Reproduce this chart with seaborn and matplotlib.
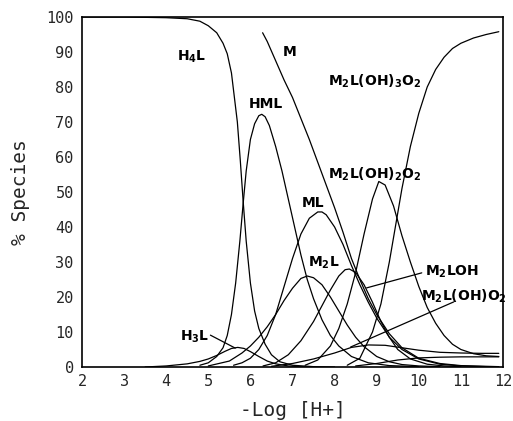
import numpy as np
import pandas as pd
import matplotlib
matplotlib.use("Agg")
import matplotlib.pyplot as plt
import seaborn as sns

# ---- data (pH, % species) ----
h4l_x = [2, 3, 4, 4.5, 4.8, 5.0, 5.2, 5.35, 5.45, 5.55, 5.62, 5.69, 5.76, 5.83, 5.9, 6.0, 6.1, 6.2, 6.35, 6.5, 6.7, 7.0, 7.5, 8.0]
h4l_y = [100, 100, 99.8, 99.5, 98.8, 97.5, 95.5, 92.5, 89.5, 84, 77, 70, 59, 47, 36, 24, 16, 11, 6.5, 3.5, 1.5, 0.5, 0.1, 0]

h3l_x = [3.5, 4.0, 4.5, 4.8, 5.0, 5.2, 5.4, 5.55, 5.7, 5.85, 6.0, 6.2, 6.4, 6.6, 6.9, 7.3]
h3l_y = [0, 0.3, 0.9, 1.6, 2.3, 3.3, 4.5, 5.3, 5.6, 5.3, 4.4, 3.0, 1.7, 0.9, 0.3, 0]

hml_x = [4.8, 5.0, 5.2, 5.35, 5.45, 5.55, 5.65, 5.75, 5.83, 5.9, 6.0, 6.1, 6.2, 6.27, 6.35, 6.45, 6.6, 6.75, 6.9, 7.05, 7.2, 7.35, 7.5, 7.7, 7.9, 8.1, 8.4, 8.8, 9.3, 10.0]
hml_y = [0.5, 1.2, 3, 5.5, 9, 15, 24, 36, 47, 56, 65, 69.5, 71.8, 72.2, 71.5, 69, 63, 56, 48, 40, 32, 25, 19.5, 13.5, 9, 6, 3, 1.2, 0.4, 0.1]

ml_x = [5.6, 5.8, 6.0, 6.2, 6.4, 6.6, 6.8, 7.0, 7.2, 7.4, 7.6, 7.7, 7.8, 8.0, 8.2, 8.4, 8.6, 8.8, 9.0, 9.3, 9.6, 10.0, 10.5, 11.0, 11.9]
ml_y = [0.5, 1.2, 2.5, 5, 9, 15, 23, 31, 38, 42.5, 44.3, 44.3, 43.5, 40, 35, 29, 23.5, 18.5, 14, 8.5, 5, 2.3, 0.8, 0.3, 0]

m_x = [6.29, 6.4, 6.6, 6.8, 7.0, 7.2, 7.4, 7.6, 7.8, 8.0, 8.2, 8.4, 8.6, 8.8, 9.0, 9.3, 9.6, 10.0, 10.5, 11.0, 11.9]
m_y = [95.5, 93, 87.5, 82, 77, 71, 65, 58.5, 52, 45.5, 38.5, 31, 25, 19.5, 15, 9.5, 5.5, 2.5, 1, 0.4, 0.1]

m2l_x = [5.0, 5.5, 5.8, 6.0, 6.2, 6.4, 6.6, 6.8, 7.0, 7.2, 7.35, 7.5, 7.7, 7.9, 8.1, 8.3, 8.5, 8.7, 9.0, 9.3, 9.6, 10.0, 10.5]
m2l_y = [0.3, 1.7, 4, 6, 8.5, 11.5, 15, 19, 22.5, 25.3, 26, 25.5, 23.5, 20, 16, 12, 8.5, 5.8, 3, 1.5, 0.7, 0.3, 0.1]

m2loh_x = [6.3, 6.6, 6.9, 7.2, 7.5, 7.7, 7.9, 8.1, 8.25, 8.35, 8.5, 8.7, 8.9, 9.1, 9.3, 9.5, 9.8, 10.2, 10.6, 11.0]
m2loh_y = [0.3, 1.2, 3.5, 7.5, 13, 17.5, 22, 26, 27.8, 28, 27, 23.5, 18.5, 13, 8.5, 5, 2.3, 0.8, 0.3, 0.1]

m2loho2_x = [6.5, 7.0, 7.5, 8.0, 8.4, 8.8, 9.2, 9.6, 10.0, 10.5, 11.0, 11.5, 11.9]
m2loho2_y = [0.2, 1.0, 2.3, 4.0, 5.6, 6.3, 6.2, 5.5, 4.8, 4.2, 4.0, 3.9, 3.9]

other_x = [8.5, 9.0, 9.5, 10.0, 10.5, 11.0, 11.9]
other_y = [0.3, 1.0, 2.0, 2.6, 2.8, 2.9, 2.9]

m2loh2o2_x = [7.3, 7.6, 7.9, 8.1, 8.3, 8.5, 8.7, 8.9, 9.05, 9.2, 9.4, 9.6, 9.8, 10.0, 10.2, 10.4, 10.6, 10.8, 11.0, 11.3, 11.6, 11.9]
m2loh2o2_y = [0.5, 2, 6, 11, 18, 27, 38, 48, 53, 52, 46, 37.5, 30, 23, 17, 12.5, 9, 6.5, 5, 3.8, 3.2, 3.0]

m2loh3o2_x = [8.3, 8.6, 8.9, 9.1, 9.3, 9.5, 9.6, 9.8, 10.0, 10.2, 10.4, 10.6, 10.8, 11.0, 11.3, 11.6, 11.9]
m2loh3o2_y = [0.5, 2.5, 10, 18, 30, 44, 51, 63, 72.5, 80, 85, 88.5, 91, 92.5, 94, 95, 95.8]

series = {
    "H4L": (h4l_x, h4l_y),
    "H3L": (h3l_x, h3l_y),
    "HML": (hml_x, hml_y),
    "ML": (ml_x, ml_y),
    "M": (m_x, m_y),
    "M2L": (m2l_x, m2l_y),
    "M2LOH": (m2loh_x, m2loh_y),
    "M2L(OH)O2": (m2loho2_x, m2loho2_y),
    "other": (other_x, other_y),
    "M2L(OH)2O2": (m2loh2o2_x, m2loh2o2_y),
    "M2L(OH)3O2": (m2loh3o2_x, m2loh3o2_y),
}

frames = []
for name, (xs, ys) in series.items():
    frames.append(pd.DataFrame({"pH": xs, "pct": ys, "species": name}))
df = pd.concat(frames, ignore_index=True)

# ---- labels ----
label_text = [r"H$_4$L", "M", r"M$_2$L(OH)$_3$O$_2$", "HML", r"M$_2$L(OH)$_2$O$_2$",
              "ML", r"M$_2$L", r"M$_2$LOH", r"M$_2$L(OH)O$_2$", r"H$_3$L"]
label_x = [4.6, 6.93, 8.95, 6.36, 8.95, 7.48, 7.74, 10.8, 11.07, 4.67]
label_y = [88.6, 90.0, 81.7, 75.1, 55.1, 46.9, 29.7, 27.1, 20.3, 8.6]

pointer_x0 = [5.05, 10.07, 10.83]
pointer_y0 = [9.1, 26.9, 18.6]
pointer_x1 = [5.64, 8.76, 8.38]
pointer_y1 = [5.4, 22.6, 5.7]

xticks = list(range(2, 13))
yticks = list(range(0, 101, 10))

# ---- drawing ----
sns.set_theme(style="white")
plt.rcParams["font.family"] = ["DejaVu Sans"]
plt.rcParams["mathtext.default"] = "regular"

fig = plt.figure(figsize=(5.13, 4.21), dpi=100)
ax = fig.add_axes([82 / 513, 1 - 367 / 421, 421 / 513, 350 / 421])

sns.lineplot(data=df, x="pH", y="pct", hue="species", units="species", estimator=None,
             palette={k: "black" for k in series}, legend=False, linewidth=0.9, ax=ax)

for x0, y0, x1, y1 in zip(pointer_x0, pointer_y0, pointer_x1, pointer_y1):
    ax.plot([x0, x1], [y0, y1], color="black", linewidth=0.9)

for t, x, y in zip(label_text, label_x, label_y):
    ax.text(x, y, t, ha="center", va="center", fontsize=10, fontweight="bold",
            family="DejaVu Sans", color="black")

ax.set_xlim(2, 12)
ax.set_ylim(0, 100)
ax.set_xticks(xticks)
ax.set_yticks(yticks)
ax.set_xticklabels([str(v) for v in xticks], family="DejaVu Sans Mono", fontsize=11)
ax.set_yticklabels([str(v) for v in yticks], family="DejaVu Sans Mono", fontsize=11)
ax.tick_params(axis="y", direction="out", length=5, width=1, color="black", pad=1)
ax.tick_params(axis="x", direction="in", length=4, width=1, color="black", pad=5)
for s in ax.spines.values():
    s.set_color("black")
    s.set_linewidth(1.2)
ax.set_xlabel("-Log [H+]", family="DejaVu Sans Mono", fontsize=14, labelpad=9)
ax.set_ylabel("% Species", family="DejaVu Sans Mono", fontsize=14, labelpad=12)

fig.savefig("out.png", dpi=100, facecolor="white")
